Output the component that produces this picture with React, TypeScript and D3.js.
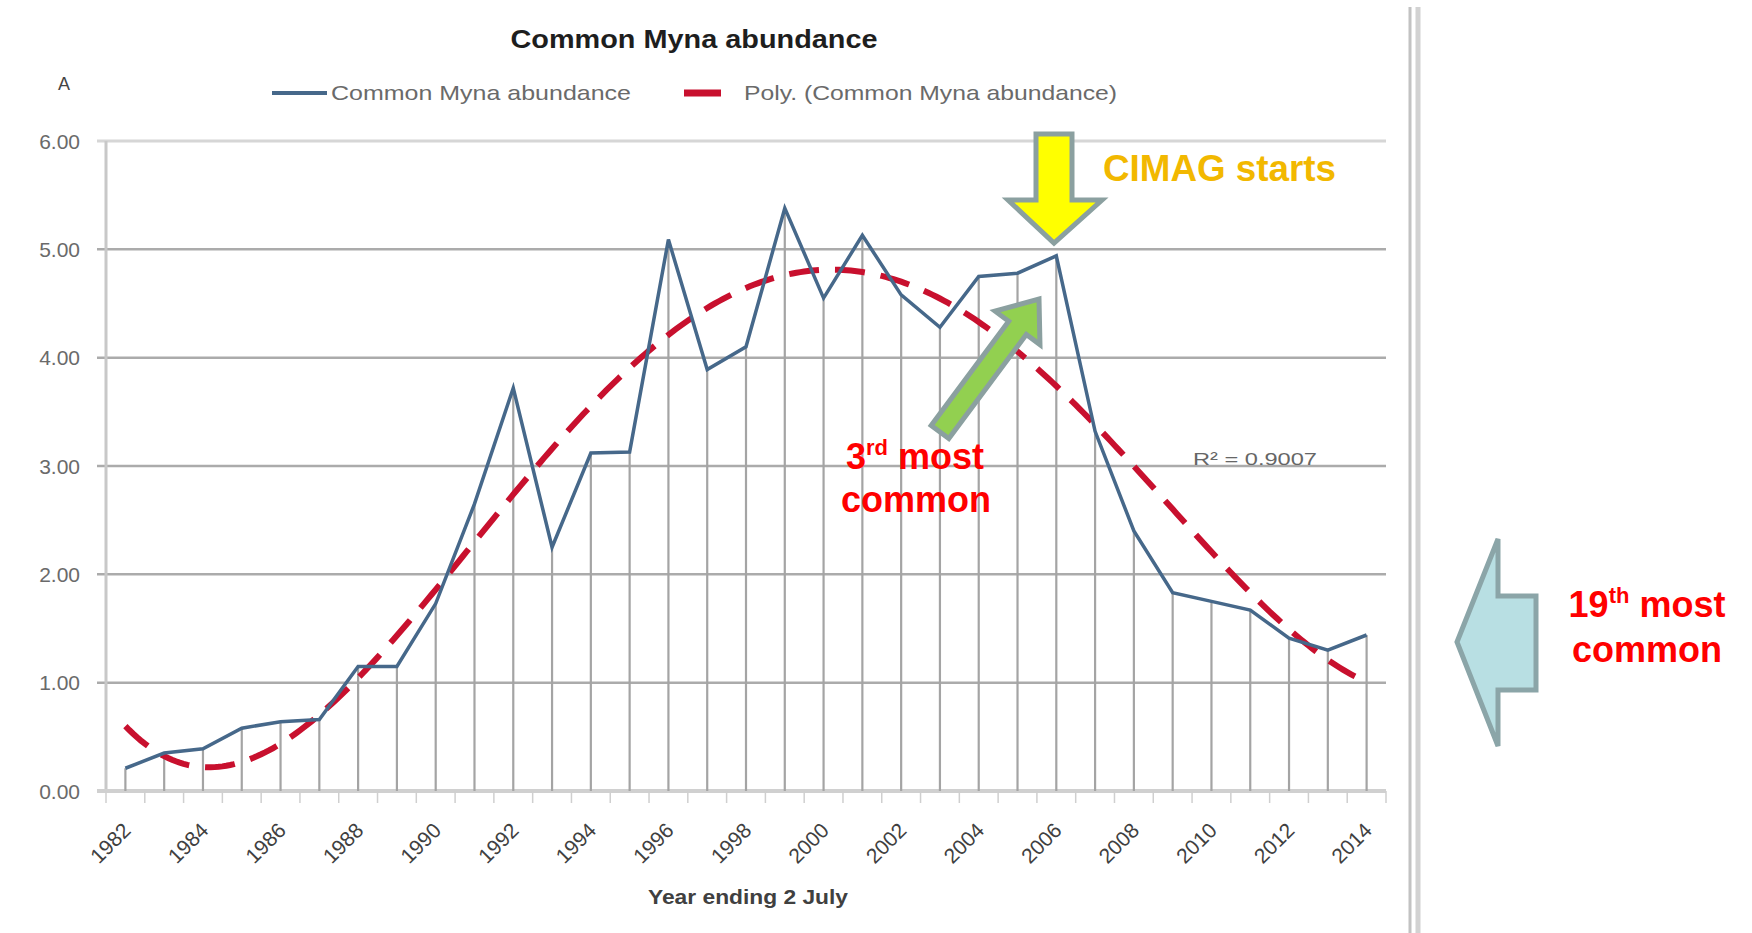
import * as d3 from "d3";

const years = [1982, 1983, 1984, 1985, 1986, 1987, 1988, 1989, 1990, 1991, 1992, 1993, 1994, 1995, 1996, 1997, 1998, 1999, 2000, 2001, 2002, 2003, 2004, 2005, 2006, 2007, 2008, 2009, 2010, 2011, 2012, 2013, 2014];
const abundance = [0.21, 0.35, 0.39, 0.58, 0.64, 0.66, 1.15, 1.15, 1.73, 2.65, 3.72, 2.25, 3.12, 3.13, 5.09, 3.89, 4.10, 5.38, 4.55, 5.13, 4.58, 4.28, 4.75, 4.78, 4.94, 3.32, 2.40, 1.83, 1.75, 1.67, 1.41, 1.30, 1.44];
const xTickYears = [1982, 1984, 1986, 1988, 1990, 1992, 1994, 1996, 1998, 2000, 2002, 2004, 2006, 2008, 2010, 2012, 2014];
const yTicks = [0, 1, 2, 3, 4, 5, 6];
const trendOrder = 4;
const rSquaredLabel = "R² = 0.9007";

const W = 1752;
const H = 933;
const font = "'Liberation Sans', Arial, sans-serif";

// least squares polynomial (excel "Poly." trendline), x rescaled to [-1, 1]
function polyFit(ys: number[], order: number) {
  const n = ys.length;
  const mid = (n - 1) / 2;
  const ts = ys.map((_, i) => (i - mid) / mid);
  const m = order + 1;
  const A: number[][] = [];
  for (let j = 0; j < m; j++) {
    const row: number[] = [];
    for (let k = 0; k < m; k++) row.push(d3.sum(ts, t => Math.pow(t, j + k)));
    row.push(d3.sum(ts, (t, i) => Math.pow(t, j) * ys[i]));
    A.push(row);
  }
  for (let c = 0; c < m; c++) {
    let p = c;
    for (let r = c + 1; r < m; r++) if (Math.abs(A[r][c]) > Math.abs(A[p][c])) p = r;
    [A[c], A[p]] = [A[p], A[c]];
    for (let r = 0; r < m; r++) {
      if (r === c) continue;
      const f = A[r][c] / A[c][c];
      for (let k = c; k <= m; k++) A[r][k] -= f * A[c][k];
    }
  }
  const coef = A.map((row, i) => row[m] / row[i]);
  return (i: number) => {
    const t = (i - mid) / mid;
    return coef.reduce((s, c, j) => s + c * Math.pow(t, j), 0);
  };
}

export default function App() {
  const x = d3.scaleBand<number>().domain(years).range([106, 1386]).padding(0);
  const bw = x.bandwidth();
  const cx = (yr: number) => (x(yr) as number) + bw / 2;
  const y = d3.scaleLinear().domain([0, 6]).range([791, 141]);

  const line = d3.line<number>()
    .x((_, i) => cx(years[i]))
    .y(v => y(v));

  const trend = polyFit(abundance, trendOrder);
  const samples = d3.range(0, years.length - 1 + 0.001, 0.1);
  const trendLine = d3.line<number>()
    .x(i => cx(years[0]) + i * bw)
    .y(i => y(trend(i)));

  // annotation arrows
  const yellowArrow = "M1036,134 L1072,134 L1072,200 L1102,200 L1054,243 L1008,200 L1036,200 Z";
  const blueArrow = "M1457,642 L1498,539 L1498,596 L1536,596 L1536,690 L1498,690 L1498,746 Z";
  const greenArrow = (() => {
    const tail: [number, number] = [940, 432];
    const tip: [number, number] = [1039, 299];
    const dx = tip[0] - tail[0], dy = tip[1] - tail[1];
    const len = Math.hypot(dx, dy);
    const ux = dx / len, uy = dy / len;
    const nx = -uy, ny = ux;
    const sw = 11, hw = 28, hl = 36;
    const bx = tip[0] - ux * hl, by = tip[1] - uy * hl;
    const pts = [
      [tail[0] + nx * sw, tail[1] + ny * sw],
      [bx + nx * sw, by + ny * sw],
      [bx + nx * hw, by + ny * hw],
      tip,
      [bx - nx * hw, by - ny * hw],
      [bx - nx * sw, by - ny * sw],
      [tail[0] - nx * sw, tail[1] - ny * sw],
    ];
    return "M" + pts.map(p => p.join(",")).join("L") + "Z";
  })();

  return (
    <svg width={W} height={H} style={{ position: "absolute", left: 0, top: 0, background: "#fff" }}>
      {/* gridlines */}
      {yTicks.filter(t => t > 0).map(t => (
        <line key={t} x1={97} x2={1386} y1={y(t)} y2={y(t)}
          stroke={t === 6 ? "#d6d6d6" : "#ababab"} strokeWidth={t === 6 ? 3 : 2.5} />
      ))}
      {/* axes */}
      <line x1={106} x2={106} y1={y(6)} y2={y(0)} stroke="#c8c8c8" strokeWidth={3} />
      <line x1={97} x2={1386} y1={y(0)} y2={y(0)} stroke="#d0d0d0" strokeWidth={4} />
      {years.map(yr => (
        <line key={yr} x1={x(yr)} x2={x(yr)} y1={y(0)} y2={y(0) + 12} stroke="#cfcfcf" strokeWidth={1.5} />
      ))}
      <line x1={1386} x2={1386} y1={y(0)} y2={y(0) + 12} stroke="#cfcfcf" strokeWidth={1.5} />
      {yTicks.map(t => (
        <text key={t} x={80} y={y(t)} dy="0.36em" textAnchor="end" fontFamily={font} fontSize={21} fill="#6a6a6a">
          {t.toFixed(2)}
        </text>
      ))}
      {xTickYears.map(yr => (
        <text key={yr} transform={`translate(${cx(yr) - 4},${y(0) + 30}) rotate(-45)`} textAnchor="end" dy="0.72em"
          fontFamily={font} fontSize={21} fill="#404040">
          {yr}
        </text>
      ))}
      {/* drop lines */}
      {abundance.map((v, i) => (
        <line key={i} x1={cx(years[i])} x2={cx(years[i])} y1={y(v)} y2={y(0)} stroke="#a4a4a4" strokeWidth={2.2} />
      ))}
      {/* trend */}
      <path d={trendLine(samples) as string} fill="none" stroke="#c8102e" strokeWidth={6} strokeDasharray="30 16" />
      {/* series */}
      <path d={line(abundance) as string} fill="none" stroke="#46688a" strokeWidth={3.5} />

      <text x={1193} y={465} fontFamily={font} fontSize={17} fill="#666" textLength={124} lengthAdjust="spacingAndGlyphs">
        {rSquaredLabel}
      </text>

      {/* title, legend */}
      <text x={694} y={48} textAnchor="middle" fontFamily={font} fontSize={26} fontWeight="bold" fill="#1e1e1e"
        textLength={367} lengthAdjust="spacingAndGlyphs">
        Common Myna abundance
      </text>
      <text x={58} y={90} fontFamily={font} fontSize={18} fill="#444">A</text>
      <line x1={272} x2={327} y1={93} y2={93} stroke="#46688a" strokeWidth={4} />
      <text x={331} y={100} fontFamily={font} fontSize={21} fill="#6a6a6a" textLength={300} lengthAdjust="spacingAndGlyphs">
        Common Myna abundance
      </text>
      <line x1={684} x2={721} y1={93} y2={93} stroke="#c8102e" strokeWidth={7} />
      <text x={744} y={100} fontFamily={font} fontSize={21} fill="#6a6a6a" textLength={373} lengthAdjust="spacingAndGlyphs">
        Poly. (Common Myna abundance)
      </text>
      <text x={748} y={904} textAnchor="middle" fontFamily={font} fontSize={21} fontWeight="bold" fill="#404040"
        textLength={200} lengthAdjust="spacingAndGlyphs">
        Year ending 2 July
      </text>

      {/* divider */}
      <line x1={1410} x2={1410} y1={7} y2={H} stroke="#c2c2c2" strokeWidth={3} />
      <line x1={1418} x2={1418} y1={7} y2={H} stroke="#d2d2d2" strokeWidth={5} />

      {/* annotations */}
      <path d={yellowArrow} fill="#ffff00" stroke="#8ba0a0" strokeWidth={5} />
      <text x={1103} y={181} fontFamily={font} fontSize={37} fontWeight="bold" fill="#f2b800"
        textLength={233} lengthAdjust="spacingAndGlyphs">CIMAG starts</text>
      <path d={greenArrow} fill="#92d050" stroke="#8ba0a0" strokeWidth={5} />
      <text x={915} y={469} textAnchor="middle" fontFamily={font} fontSize={36} fontWeight="bold" fill="#ff0000">
        3<tspan fontSize={22} dy={-14}>rd</tspan><tspan dy={14}> most</tspan>
      </text>
      <text x={916} y={512} textAnchor="middle" fontFamily={font} fontSize={36} fontWeight="bold" fill="#ff0000">common</text>
      <path d={blueArrow} fill="#b8dfe3" stroke="#8ba5a8" strokeWidth={5} />
      <text x={1647} y={617} textAnchor="middle" fontFamily={font} fontSize={36} fontWeight="bold" fill="#ff0000">
        19<tspan fontSize={22} dy={-14}>th</tspan><tspan dy={14}> most</tspan>
      </text>
      <text x={1647} y={662} textAnchor="middle" fontFamily={font} fontSize={36} fontWeight="bold" fill="#ff0000">common</text>
    </svg>
  );
}
